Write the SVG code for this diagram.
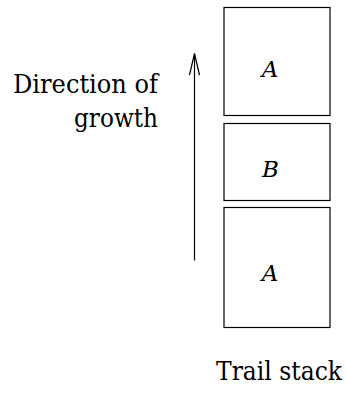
<svg xmlns="http://www.w3.org/2000/svg" width="346" height="394" viewBox="0 0 346 394">
<style>
.box{fill:#fff;stroke:#000;stroke-width:1.2}
.ln{fill:none;stroke:#000;stroke-width:1.2}
.s{font-family:"DejaVu Serif",serif}
.it{font-family:"DejaVu Serif",serif;font-style:italic;font-size:23px;text-anchor:middle}
</style>
<rect width="346" height="394" fill="#fff"/>
<g id="node-A-top"><rect class="box" x="224" y="7.5" width="106" height="108"/><text class="it" x="270" y="77">A</text></g>
<g id="node-B"><rect class="box" x="224" y="123.5" width="106" height="77"/><text class="it" x="270.5" y="177">B</text></g>
<g id="node-A-bottom"><rect class="box" x="224" y="207.5" width="106" height="120"/><text class="it" x="270" y="281">A</text></g>
<g id="connectors">
<line class="ln" x1="194.5" y1="260.5" x2="194.5" y2="54"/>
<polyline class="ln" points="189.5,75 194.5,53.5 199.5,75"/>
</g>
<g id="labels" class="s" font-size="26.5">
<text x="158" y="93" text-anchor="end" textLength="145" lengthAdjust="spacingAndGlyphs">Direction of</text>
<text x="158" y="127" text-anchor="end" textLength="84" lengthAdjust="spacingAndGlyphs">growth</text>
<text x="342" y="380" text-anchor="end" textLength="126" lengthAdjust="spacingAndGlyphs">Trail stack</text>
</g>
</svg>
